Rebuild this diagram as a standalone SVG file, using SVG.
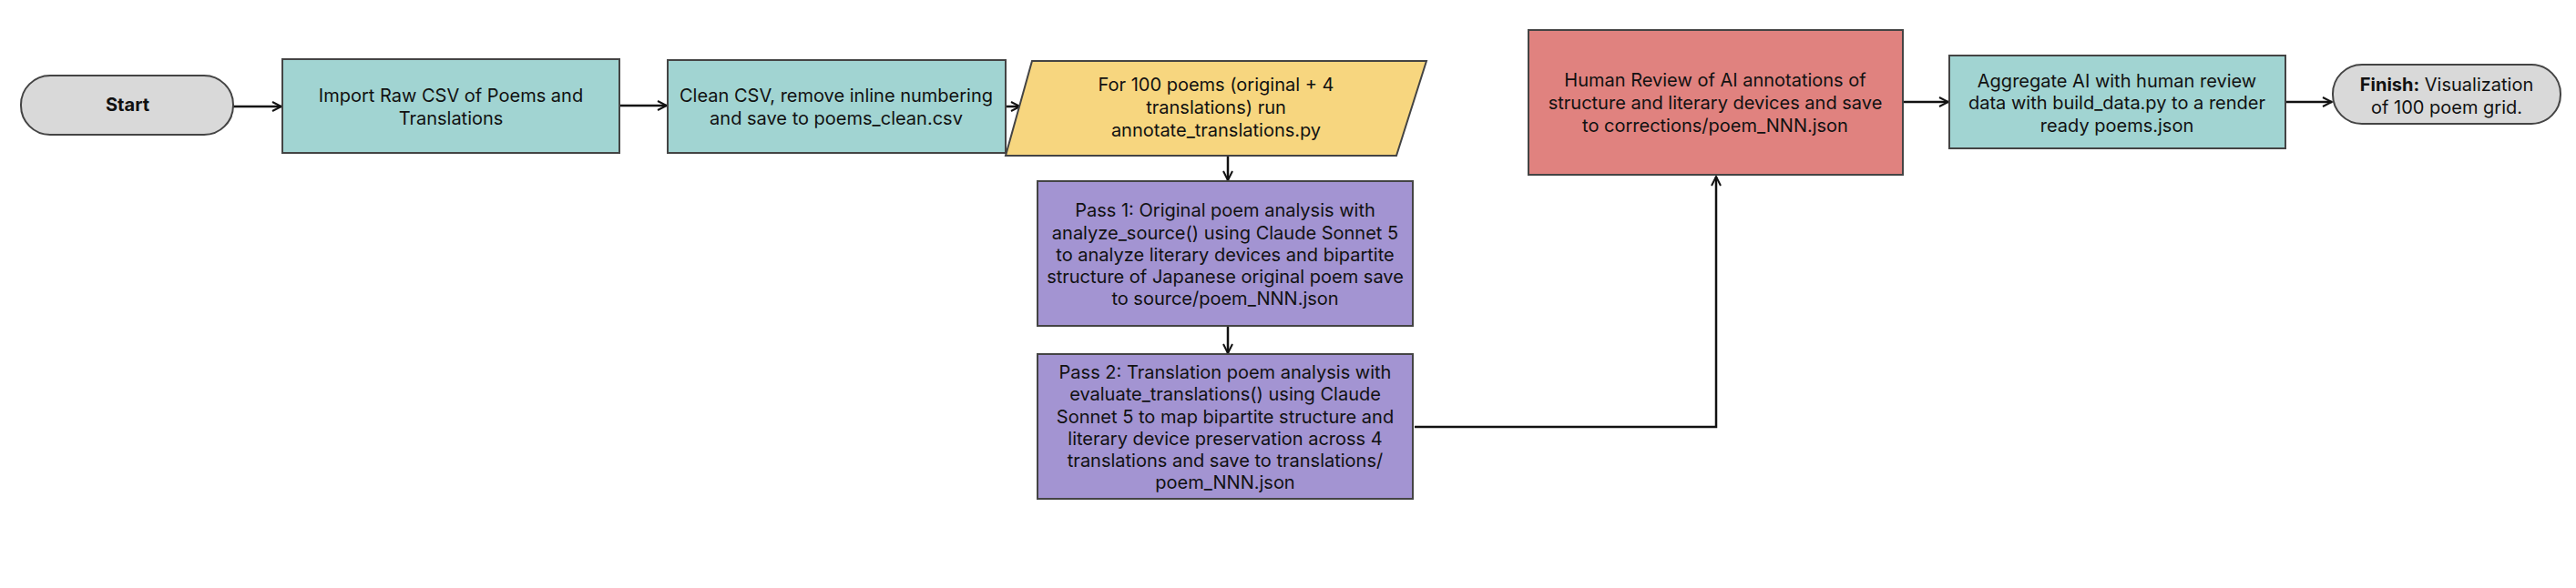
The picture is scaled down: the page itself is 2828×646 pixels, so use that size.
<svg xmlns="http://www.w3.org/2000/svg" width="2828" height="646" viewBox="0 0 2828 646">
<style>
text{font-family:Inter,"Noto Sans",sans-serif;font-size:20px;fill:#111;text-anchor:middle}
.b{stroke:#444;stroke-width:2}
.teal{fill:#A1D4D2}.grey{fill:#D9D9D9}.yel{fill:#F7D67F}.pur{fill:#A394D2}.red{fill:#E0827F}
.c{fill:none;stroke:#111;stroke-width:2.5;marker-end:url(#a)}
</style>
<defs><marker id="a" viewBox="0 0 12 12" refX="11" refY="6" markerWidth="12" markerHeight="12" markerUnits="userSpaceOnUse" orient="auto"><path d="M1,1 L11,6 L1,11" fill="none" stroke="#111" stroke-width="2"/></marker></defs>
<g id="connectors">
<path class="c" d="M256,117 H309"/>
<path class="c" d="M680,116 H732"/>
<path class="c" d="M1104,117 H1120"/>
<path class="c" d="M1348,171 V198"/>
<path class="c" d="M1348,358 V388"/>
<path class="c" d="M1553,469 H1884 V194"/>
<path class="c" d="M2089,112 H2139"/>
<path class="c" d="M2509,112 H2560"/>
</g>
<g id="start"><rect class="b grey" x="23" y="83" width="233" height="65" rx="32"/><text x="140" y="122" font-weight="bold">Start</text></g>
<g id="import"><rect class="b teal" x="310" y="65" width="370" height="103"/><text x="495" y="112">Import Raw CSV of Poems and</text><text x="495" y="137">Translations</text></g>
<g id="clean"><rect class="b teal" x="733" y="66" width="371" height="102"/><text x="918" y="112">Clean CSV, remove inline numbering</text><text x="918" y="137">and save to poems_clean.csv</text></g>
<g id="loop"><path class="b yel" d="M1133,67 H1566 L1533,171 H1104 Z"/><text x="1335" y="100">For 100 poems (original + 4</text><text x="1335" y="125">translations) run</text><text x="1335" y="150">annotate_translations.py</text></g>
<g id="pass1"><rect class="b pur" x="1139" y="199" width="412" height="159"/><text x="1345" y="238">Pass 1: Original poem analysis with</text><text x="1345" y="263">analyze_source() using Claude Sonnet 5</text><text x="1345" y="287">to analyze literary devices and bipartite</text><text x="1345" y="311">structure of Japanese original poem save</text><text x="1345" y="335">to source/poem_NNN.json</text></g>
<g id="pass2"><rect class="b pur" x="1139" y="389" width="412" height="159"/><text x="1345" y="416">Pass 2: Translation poem analysis with</text><text x="1345" y="440">evaluate_translations() using Claude</text><text x="1345" y="465">Sonnet 5 to map bipartite structure and</text><text x="1345" y="489">literary device preservation across 4</text><text x="1345" y="513">translations and save to translations/</text><text x="1345" y="537">poem_NNN.json</text></g>
<g id="review"><rect class="b red" x="1678" y="33" width="411" height="159"/><text x="1883" y="95">Human Review of AI annotations of</text><text x="1883" y="120">structure and literary devices and save</text><text x="1883" y="145">to corrections/poem_NNN.json</text></g>
<g id="aggregate"><rect class="b teal" x="2140" y="61" width="369" height="102"/><text x="2324" y="96">Aggregate AI with human review</text><text x="2324" y="120">data with build_data.py to a render</text><text x="2324" y="145">ready poems.json</text></g>
<g id="finish"><rect class="b grey" x="2561" y="71" width="250" height="65" rx="32"/><text x="2686" y="100"><tspan font-weight="bold">Finish:</tspan> Visualization</text><text x="2686" y="125">of 100 poem grid.</text></g>
</svg>
